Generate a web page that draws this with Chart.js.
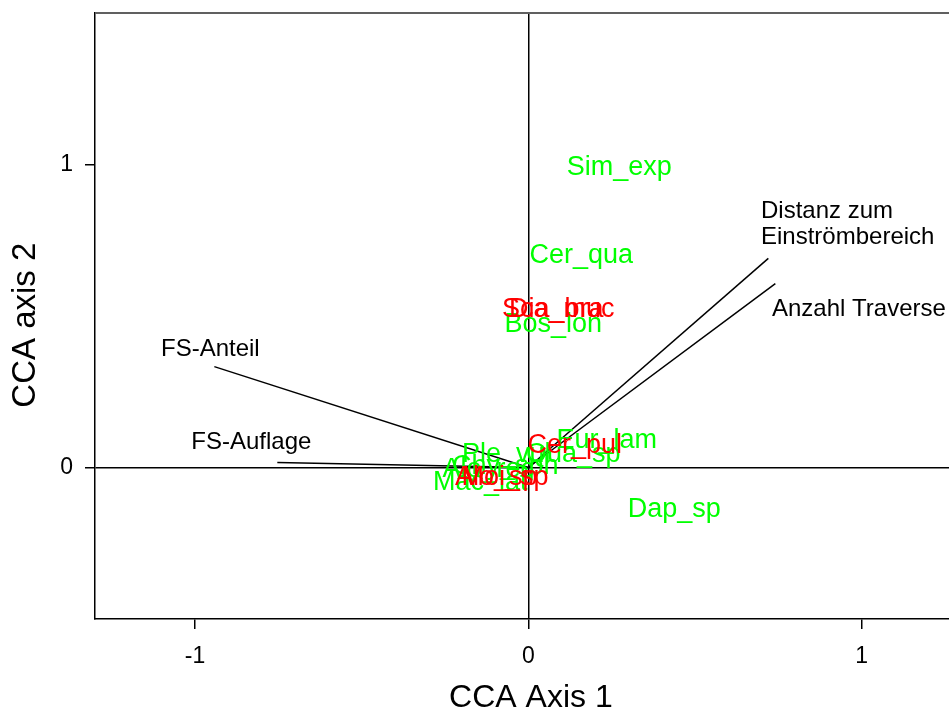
<!DOCTYPE html>
<html>
<head>
<meta charset="utf-8">
<script src="https://cdn.jsdelivr.net/npm/chart.js@4.4.1/dist/chart.umd.min.js"></script>
<style>
  html, body { margin: 0; padding: 0; background: #ffffff; }
  canvas { display: block; }
</style>
</head>
<body>
<canvas id="c" width="949" height="717"></canvas>
<script>
// Axis ticks
const xTickValues = [-1, 0, 1];
const yTickValues = [0, 1];

// Species scores, first group (green)
const greenNames = ['Sim_exp', 'Cer_qua', 'Bos_lon', 'Eur_lam', 'Qua_sp', 'Ple_vul', 'Alo_rec', 'Chy_sph', 'Mac_lat', 'Dap_sp'];
const greenX     = [0.273, 0.159, 0.075, 0.235, 0.135, -0.066, -0.120, -0.069, -0.144, 0.438];
const greenY     = [0.997, 0.706, 0.479, 0.096, 0.050, 0.050, 0.000, 0.010, -0.043, -0.132];

// Species scores, second group (red)
const redNames = ['Sca_muc', 'Dia_bra', 'Cer_pul', 'Alo_sp', 'Moi_sp'];
const redX     = [0.090, 0.084, 0.139, -0.096, -0.070];
const redY     = [0.528, 0.528, 0.079, -0.026, -0.026];

// Environmental vectors (tips) and their label anchors
const envNames  = ['FS-Anteil', 'FS-Auflage', ['Distanz zum', 'Einströmbereich'], 'Anzahl Traverse'];
const envX      = [-0.942, -0.753, 0.720, 0.741];
const envY      = [0.333, 0.0165, 0.690, 0.607];
const envLabelX = [-0.954, -0.831, 0.698, 0.731];
const envLabelY = [0.396, 0.089, 0.809, 0.530];
const envAlign  = ['center', 'center', 'left', 'left'];

const FONT = '"Liberation Sans", Arial, sans-serif';

const toPoints = (xs, ys) => xs.map((x, i) => ({ x: x, y: ys[i] }));

const datasets = [];

// vectors drawn from the origin
envX.forEach((x, i) => {
  datasets.push({
    data: [{ x: 0, y: 0 }, { x: x, y: envY[i] }],
    showLine: true,
    borderColor: '#000000',
    borderWidth: 1.5,
    pointRadius: 0,
    fill: false
  });
});

datasets.push({
  data: toPoints(greenX, greenY),
  pointRadius: 0,
  labelText: greenNames,
  labelColor: '#00ff00',
  labelSize: 27
});
datasets.push({
  data: toPoints(redX, redY),
  pointRadius: 0,
  labelText: redNames,
  labelColor: '#ff0000',
  labelSize: 27
});
datasets.push({
  data: toPoints(envLabelX, envLabelY),
  pointRadius: 0,
  labelText: envNames,
  labelColor: '#000000',
  labelSize: 24,
  labelAlign: envAlign,
  lineGap: 25.5
});

// draws the text of each labelled dataset at its scaled position
const scoreLabels = {
  id: 'scoreLabels',
  afterDatasetsDraw(chart) {
    const ctx = chart.ctx;
    ctx.save();
    chart.data.datasets.forEach((ds, di) => {
      if (!ds.labelText) return;
      const meta = chart.getDatasetMeta(di);
      ctx.fillStyle = ds.labelColor;
      ctx.font = ds.labelSize + 'px ' + FONT;
      ctx.textBaseline = 'alphabetic';
      meta.data.forEach((el, i) => {
        const txt = ds.labelText[i];
        const lines = Array.isArray(txt) ? txt : [txt];
        ctx.textAlign = ds.labelAlign ? ds.labelAlign[i] : 'center';
        const gap = ds.lineGap || ds.labelSize;
        const y0 = el.y - (lines.length - 1) * gap / 2;
        lines.forEach((ln, k) => {
          ctx.fillText(ln, el.x, y0 + k * gap + 0.358 * ds.labelSize);
        });
      });
    });
    ctx.restore();
  }
};

// grey frame line along the top of the plot area
const topFrame = {
  id: 'topFrame',
  afterDraw(chart) {
    const a = chart.chartArea;
    const ctx = chart.ctx;
    ctx.save();
    ctx.strokeStyle = '#606060';
    ctx.lineWidth = 2;
    ctx.beginPath();
    ctx.moveTo(a.left, a.top);
    ctx.lineTo(a.right, a.top);
    ctx.stroke();
    ctx.restore();
  }
};

const zeroLine = (ctx) => (ctx.tick && ctx.tick.value === 0 ? '#000000' : 'rgba(0,0,0,0)');

new Chart(document.getElementById('c'), {
  type: 'scatter',
  data: { datasets: datasets },
  plugins: [scoreLabels, topFrame],
  options: {
    responsive: false,
    maintainAspectRatio: false,
    devicePixelRatio: 1,
    animation: false,
    layout: { padding: { top: 13, left: 0, right: 0, bottom: 0 } },
    plugins: { legend: { display: false }, tooltip: { enabled: false } },
    scales: {
      x: {
        type: 'linear',
        position: 'bottom',
        min: -1.3,
        max: 1.262,
        afterBuildTicks: (s) => { s.ticks = xTickValues.map(v => ({ value: v })); },
        afterFit: (s) => { s.height = 98; s.paddingLeft = 0; s.paddingRight = 0; },
        grid: { color: zeroLine, tickColor: '#000000', lineWidth: 1.5, tickLength: 10, drawTicks: true },
        border: { display: true, color: '#000000', width: 1.5 },
        ticks: { color: '#000000', font: { family: FONT, size: 23 }, padding: 14, maxRotation: 0 },
        title: { display: true, text: '\u00A0\u00A0CCA Axis 1', color: '#000000', font: { family: FONT, size: 32 }, padding: { top: 0, bottom: 0 } }
      },
      y: {
        type: 'linear',
        position: 'left',
        min: -0.5,
        max: 1.5,
        afterBuildTicks: (s) => { s.ticks = yTickValues.map(v => ({ value: v })); },
        afterFit: (s) => { s.width = 95; s.paddingTop = 0; s.paddingBottom = 0; },
        grid: { color: zeroLine, tickColor: '#000000', lineWidth: 1.5, tickLength: 10, drawTicks: true },
        border: { display: true, color: '#000000', width: 1.5 },
        ticks: { color: '#000000', font: { family: FONT, size: 23 }, padding: 12 },
        title: { display: true, text: 'CCA axis 2\u00A0\u00A0', color: '#000000', font: { family: FONT, size: 33 }, padding: { top: 6, bottom: 0 } }
      }
    }
  }
});
</script>
</body>
</html>
